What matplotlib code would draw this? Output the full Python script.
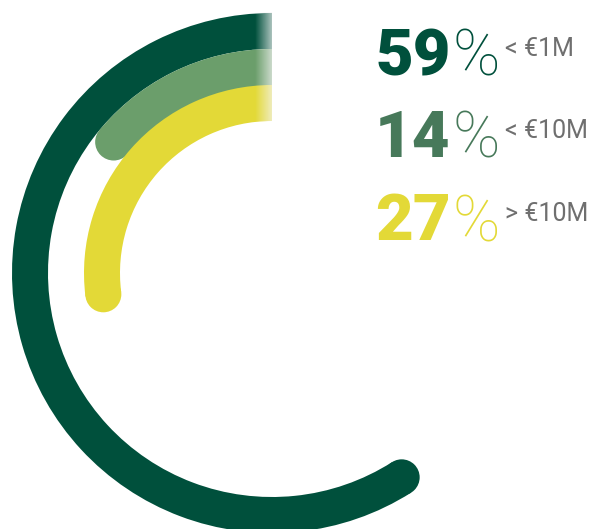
import matplotlib.pyplot as plt
import numpy as np
from matplotlib.patches import Wedge, Circle

# values
values = [59, 14, 27]
labels = ['< €1M', '< €10M', '> €10M']
arc_colors = ['#00503c', '#6b9e6b', '#e3d937']
text_colors = ['#00503c', '#47795a', '#e3d937']

W, H = 589, 529
fig = plt.figure(figsize=(W / 100, H / 100), dpi=100)
ax = fig.add_axes([0, 0, 1, 1])
ax.set_xlim(0, W)
ax.set_ylim(0, H)
ax.set_aspect('equal')
ax.axis('off')

cx, cy = 272, H - 273
outer = [260, 224, 188]
width = [36, 37, 36]

for v, r, w, c in zip(values, outer, width, arc_colors):
    sweep = v / 100 * 360
    ax.add_patch(Wedge((cx, cy), r, 90, 90 + sweep, width=w, color=c, lw=0))
    a = np.radians(90 + sweep)
    rm = r - w / 2
    ax.add_patch(Circle((cx + rm * np.cos(a), cy + rm * np.sin(a)), w / 2, color=c, lw=0))

# soft fade where the rings start
grad = np.ones((1, 64, 4))
grad[..., :3] = 0.96
grad[..., 3] = np.linspace(0, 0.7, 64)
ax.imshow(grad, extent=[255, 272, H - 121, H - 12], aspect='auto', zorder=3)
ax.set_xlim(0, W)
ax.set_ylim(0, H)

baselines = [H - 75, H - 157, H - 240]
for v, lab, tc, yb in zip(values, labels, text_colors, baselines):
    ax.text(375, yb, str(v), color=tc, fontsize=47, fontweight='black',
            family=['Roboto', 'DejaVu Sans'], ha='left', va='baseline', zorder=5)
    ax.text(453, yb - 1, '%', color=tc, fontsize=46, fontweight='light',
            family=['Roboto', 'DejaVu Sans'], ha='left', va='baseline', zorder=5)
    ax.text(505, yb + 19, lab, color='#6f6f6f', fontsize=18, fontweight='normal',
            family=['Roboto', 'DejaVu Sans'], ha='left', va='baseline', zorder=5)

fig.savefig('out.png', dpi=100, facecolor='white')
